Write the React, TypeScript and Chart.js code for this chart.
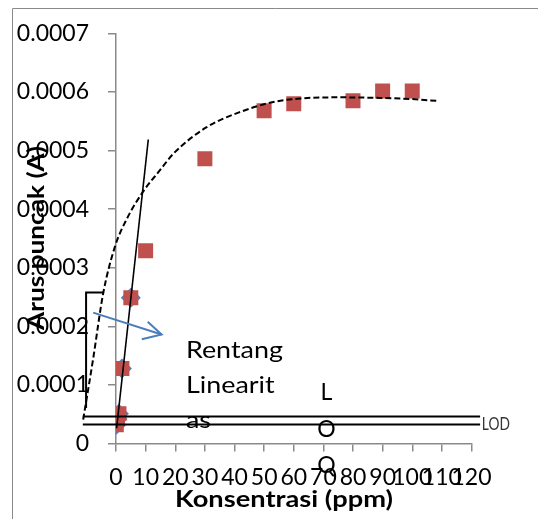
import { useEffect, useRef } from "react";
import { Chart, registerables } from "chart.js";

Chart.register(...registerables);

// ---- data ----
const xTicks = [0, 10, 20, 30, 40, 50, 60, 70, 80, 90, 100, 110, 120];
const yTicks = [0, 0.0001, 0.0002, 0.0003, 0.0004, 0.0005, 0.0006, 0.0007];
const yTickLabels = ["0", "0.0001", "0.0002", "0.0003", "0.0004", "0.0005", "0.0006", "0.0007"];

// all measurements (red squares)
const allX = [0.1, 0.5, 1, 2, 5, 10, 30, 50, 60, 80, 90, 100];
const allY = [0.000032, 0.000042, 0.000051, 0.000128, 0.000249, 0.000329, 0.000486, 0.000568, 0.00058, 0.000585, 0.000602, 0.000602];

// linear range (blue diamonds)
const linX = [0.1, 0.5, 1, 2, 5];
const linY = [0.000032, 0.000042, 0.000051, 0.000128, 0.000249];

// linear fit line
const fitX = [0.2, 10.9];
const fitY = [0.000026, 0.000519];

// polynomial trend (dashed) (listed from right to left)
const trendX = [108.1, 100, 89.2, 75, 62.2, 53.1, 41.9, 30.6, 19.4, 14.9, 9, 3.6, -0.3, -4.3, -7.7, -11.2];
const trendY = [0.000585, 0.000588, 0.00059, 0.000591, 0.000589, 0.000583, 0.000566, 0.00054, 0.000495, 0.000467, 0.000429, 0.000383, 0.000337, 0.000257, 0.000145, 0.000037];

// LOD / LOQ horizontal levels
const lodLevels = [0.000046, 0.0000325];
const lodXRange = [-11.2, 122.9];

// bracket of the linear range
const bracketX = [-4.3, -10.1, -10.1];
const bracketY = [0.000258, 0.000258, 0.0000605];

// arrow
const arrowX = [-7.7, 15.4];
const arrowY = [0.0002235, 0.000186];
const arrowHeadX = [10.7, 15.4, 8.7];
const arrowHeadY = [0.000208, 0.000186, 0.000178];

const rentangLines = ["Rentang", "Linearit", "as"];
const loqLetters = ["L", "O", "Q"];

const toPts = (xs: number[], ys: number[]) => xs.map((x, i) => ({ x, y: ys[i] }));

const FONT = "Lato, 'Open Sans', sans-serif";

// draw text horizontally stretched to a target width
function fitText(ctx: any, text: string, x: number, y: number, targetW: number) {
  const w = ctx.measureText(text).width;
  const k = targetW / w;
  ctx.save();
  ctx.translate(x, y);
  ctx.scale(k, 1);
  ctx.fillText(text, 0, 0);
  ctx.restore();
}

const annotPlugin = {
  id: "annot",
  beforeDraw(chart: any) {
    const ctx = chart.ctx;
    ctx.save();
    ctx.fillStyle = "#ffffff";
    ctx.fillRect(0, 0, chart.width, chart.height);
    ctx.strokeStyle = "#8a8a8a";
    ctx.lineWidth = 1;
    ctx.beginPath();
    ctx.moveTo(12.5, chart.height);
    ctx.lineTo(12.5, 8.5);
    ctx.lineTo(chart.width, 8.5);
    ctx.stroke();
    ctx.restore();
  },
  afterDraw(chart: any) {
    const ctx = chart.ctx;
    const xs = chart.scales.x;
    const ys = chart.scales.y;
    ctx.save();
    ctx.fillStyle = "#000";
    // Rentang Linearitas text box
    ctx.font = `23px ${FONT}`;
    ctx.textAlign = "left";
    ctx.textBaseline = "alphabetic";
    const rx = xs.getPixelForValue(23.6);
    const rBase = [0.0001463, 0.0000863, 0.0000262];
    const kR = 97 / ctx.measureText(rentangLines[0]).width;
    rentangLines.forEach((t, i) => {
      ctx.save();
      ctx.translate(rx, ys.getPixelForValue(rBase[i]));
      ctx.scale(kR, 1);
      ctx.fillText(t, 0, 0);
      ctx.restore();
    });
    // LOQ vertical letters
    ctx.textAlign = "center";
    const lx = xs.getPixelForValue(71);
    const lBase = [0.0000743, 0.0000108, -0.0000508];
    loqLetters.forEach((t, i) => ctx.fillText(t, lx, ys.getPixelForValue(lBase[i])));
    // LOD label
    ctx.font = `18px ${FONT}`;
    ctx.textAlign = "left";
    ctx.fillStyle = "#333";
    ctx.fillText("LOD", xs.getPixelForValue(123.5), ys.getPixelForValue(0.0000228), 28);
    // axis titles
    ctx.fillStyle = "#000";
    ctx.font = `bold 22px ${FONT}`;
    ctx.textAlign = "center";
    ctx.textBaseline = "middle";
    fitText(ctx, "Konsentrasi (ppm)", 284, 500, 218);
    ctx.save();
    ctx.translate(37, 238);
    ctx.rotate(-Math.PI / 2);
    fitText(ctx, "Arus puncak (A)", 0, 0, 184);
    ctx.restore();
    ctx.restore();
  },
};

export default function App() {
  const ref = useRef<HTMLCanvasElement | null>(null);
  useEffect(() => {
    if (!ref.current) return;
    const red = "#C0504D";
    const blue = "#4F81BD";
    const lineDs = (data: any, color: string, width: number, order: number, dash: number[] = []) => ({
      type: "line",
      data,
      borderColor: color,
      backgroundColor: color,
      borderWidth: width,
      borderDash: dash,
      pointRadius: 0,
      pointHoverRadius: 0,
      showLine: true,
      fill: false,
      tension: 0,
      clip: false,
      order,
    });
    const chart = new Chart(ref.current, {
      type: "scatter",
      data: {
        datasets: [
          {
            label: "linear",
            data: toPts(linX, linY),
            pointStyle: "rectRot",
            pointRadius: 10,
            backgroundColor: blue,
            borderColor: blue,
            borderWidth: 0,
            order: 10,
          },
          {
            label: "all",
            data: toPts(allX, allY),
            pointStyle: "rect",
            pointRadius: 10.6,
            backgroundColor: red,
            borderColor: red,
            borderWidth: 0,
            order: 9,
          },
          { ...lineDs(toPts(trendX, trendY), "#000", 2, 5, [6, 3]), cubicInterpolationMode: "monotone" },
          lineDs(toPts(fitX, fitY), "#000", 1.6, 4),
          lineDs(toPts(lodXRange, [lodLevels[0], lodLevels[0]]), "#000", 2, 3),
          lineDs(toPts(lodXRange, [lodLevels[1], lodLevels[1]]), "#000", 2, 3),
          lineDs(toPts(bracketX, bracketY), "#000", 2, 3),
          lineDs(toPts(arrowX, arrowY), "#4A7EBB", 2, 2),
          lineDs(toPts(arrowHeadX, arrowHeadY), "#4A7EBB", 2, 2),
        ] as any,
      },
      options: {
        animation: false,
        responsive: false,
        events: [],
        layout: { padding: { top: 33.5, right: 66.5, left: 0, bottom: 0 } },
        plugins: { legend: { display: false }, tooltip: { enabled: false }, title: { display: false } },
        scales: {
          x: {
            type: "linear",
            min: 0,
            max: 120,
            afterFit: (s: any) => { s.height = 75.5; },
            afterBuildTicks: (s: any) => { s.ticks = xTicks.map((v) => ({ value: v })); },
            ticks: {
              autoSkip: false,
              maxRotation: 0,
              minRotation: 0,
              padding: 12.5,
              color: "#000",
              font: { family: FONT, size: 23 },
              callback: (v: any) => String(v),
            },
            grid: { drawOnChartArea: false, drawTicks: true, tickLength: 8, color: "#8a8a8a", lineWidth: 1.5 },
            border: { display: true, color: "#8a8a8a", width: 1.5 },
          },
          y: {
            type: "linear",
            min: 0,
            max: 0.0007,
            afterFit: (s: any) => { s.width = 116; },
            afterBuildTicks: (s: any) => { s.ticks = yTicks.map((v) => ({ value: v })); },
            ticks: {
              autoSkip: false,
              padding: 19,
              color: "#000",
              font: { family: FONT, size: 23 },
              callback: (_v: any, i: number) => yTickLabels[i],
            },
            grid: { drawOnChartArea: false, drawTicks: true, tickLength: 8, color: "#8a8a8a", lineWidth: 1.5 },
            border: { display: true, color: "#8a8a8a", width: 1.5 },
          },
        },
      } as any,
      plugins: [annotPlugin],
    });
    return () => chart.destroy();
  }, []);
  return (
    <div style={{ position: "fixed", left: 0, top: 0, width: 538, height: 519 }}>
      <canvas ref={ref} width={538} height={519} style={{ display: "block" }} />
    </div>
  );
}
